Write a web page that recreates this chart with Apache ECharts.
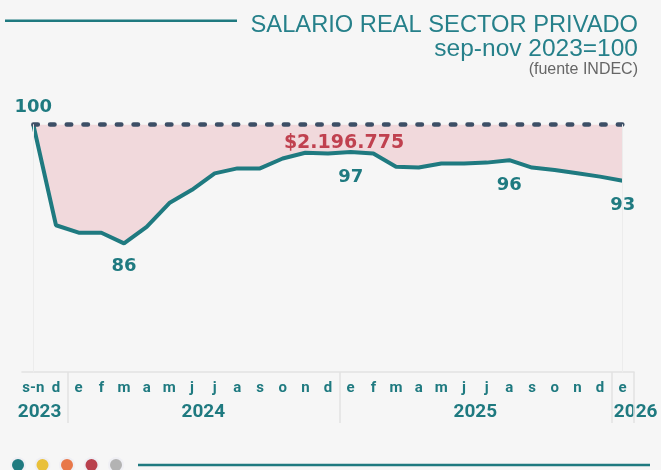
<!DOCTYPE html>
<html>
<head>
<meta charset="utf-8">
<script src="https://cdn.jsdelivr.net/npm/echarts@6/dist/echarts.min.js"></script>
<style>
    html, body { margin: 0; padding: 0; background: #f6f6f6; }
    #chart { width: 661px; height: 470px; }
</style>
</head>
<body>
<div id="chart"></div>
<script>
    // meses (sep-nov 2023 = 100)
    var months = ['s-n', 'd', 'e', 'f', 'm', 'a', 'm', 'j', 'j', 'a', 's', 'o', 'n', 'd',
        'e', 'f', 'm', 'a', 'm', 'j', 'j', 'a', 's', 'o', 'n', 'd', 'e']
    var salario = [100, 87.8, 86.9, 86.9, 85.6, 87.6, 90.5, 92.1, 94.1, 94.7, 94.7, 95.9, 96.6, 96.5,
        96.7, 96.5, 94.9, 94.8, 95.3, 95.3, 95.4, 95.7, 94.8, 94.5, 94.1, 93.7, 93.2]
    var base = 100
    // puntos con etiqueta
    var labelIdx = [0, 4, 14, 21, 26]
    // años: texto, primer y ultimo indice
    var years = ['2023', '2024', '2025', '2026']
    var yearSpan = [[0, 1], [2, 13], [14, 25], [26, 26]]
    var perdida = '$2.196.775'
    var dotColors = ['#1f7a80', '#e9c03a', '#e8784a', '#b9414e', '#b3b3b3']

    var teal = '#1f7a80'

    var chart = echarts.init(document.getElementById('chart'))

    var lineData = salario.map(function (v, i) {
        if (labelIdx.indexOf(i) < 0) return v
        return {
            value: v,
            label: {
                show: true,
                position: i === 0 ? 'top' : 'bottom',
                distance: i === 0 ? 8 : (i === 4 ? 14 : 16),
                formatter: function (p) { return Math.round(p.value) },
                color: teal,
                fontFamily: 'DejaVu Sans',
                fontWeight: 'bold',
                fontSize: 18
            }
        }
    })

    chart.setOption({
        backgroundColor: '#f6f6f6',
        animation: false,
        title: [
            {
                text: 'SALARIO REAL SECTOR PRIVADO',
                right: 18,
                top: 8,
                textStyle: { color: '#26808a', fontFamily: 'Liberation Sans', fontWeight: 'normal', fontSize: 23.7 }
            },
            {
                text: 'sep-nov 2023=100',
                right: 18,
                top: 32,
                textStyle: { color: '#26808a', fontFamily: 'Liberation Sans', fontWeight: 'normal', fontSize: 24.5 }
            },
            {
                text: '(fuente INDEC)',
                right: 18,
                top: 57,
                textStyle: { color: '#666', fontFamily: 'Liberation Sans', fontWeight: 'normal', fontSize: 16 }
            },
            {
                text: perdida,
                left: 339,
                top: 129,
                textAlign: 'center',
                textStyle: { color: '#c0414f', fontFamily: 'DejaVu Sans', fontWeight: 'bold', fontSize: 19 }
            }
        ],
        grid: { //area del grafico
            left: 22,
            right: 27,
            top: 124.7,
            bottom: 98
        },
        xAxis: {
            type: 'category',
            boundaryGap: true,
            data: months,
            axisLine: { lineStyle: { color: '#e2e2e2', width: 1.5 } },
            axisTick: {
                show: true,
                length: 51,
                interval: function (index) { return index === 2 || index === 14 || index === 26 },
                lineStyle: { color: '#e2e2e2', width: 1.5 }
            },
            axisLabel: {
                interval: 0,
                margin: 9,
                color: teal,
                fontFamily: 'Roboto',
                fontWeight: 'bold',
                fontSize: 15
            },
            splitLine: { show: false }
        },
        yAxis: {
            type: 'value',
            min: 70,
            max: 100,
            show: false
        },
        series: [
            {
                name: 'salario',
                type: 'line',
                data: lineData,
                symbol: 'circle',
                symbolSize: 0,
                itemStyle: { color: teal },
                z: 3,
                lineStyle: { color: teal, width: 4 },
                areaStyle: { color: '#f1d9dc', opacity: 1, origin: 'end' },
                markLine: {
                    silent: true,
                    symbol: 'none',
                    label: { show: false },
                    lineStyle: { color: '#3d4f66', width: 4.5, type: [4.5, 12.2], cap: 'round' },
                    data: [
                        [{ coord: [0, base] }, { coord: [months.length - 1, base] }],
                        { xAxis: 0, lineStyle: { color: '#ececec', width: 1, type: 'solid' } },
                        { xAxis: months.length - 1, lineStyle: { color: '#ececec', width: 1, type: 'solid' } }
                    ]
                }
            }
        ]
    })

    // etiquetas de años y decoracion
    var band = chart.convertToPixel({ xAxisIndex: 0 }, 1) - chart.convertToPixel({ xAxisIndex: 0 }, 0)
    var graphics = []
    years.forEach(function (y, k) {
        var a = chart.convertToPixel({ xAxisIndex: 0 }, yearSpan[k][0])
        var b = chart.convertToPixel({ xAxisIndex: 0 }, yearSpan[k][1])
        var x = (a + b) / 2
        var align = 'center'
        if (k === 0) { x = b + band / 2 - 6; align = 'right' }
        if (k === years.length - 1) { x = a - band / 2 + 2.5; align = 'left' }
        graphics.push({
            type: 'text',
            x: x,
            y: 412,
            style: {
                text: y,
                fill: teal,
                font: 'bold 19px Roboto',
                textAlign: align,
                textVerticalAlign: 'middle'
            }
        })
    })
    graphics.push({
        type: 'line',
        shape: { x1: 5, y1: 20.7, x2: 237, y2: 20.7 },
        style: { stroke: teal, lineWidth: 2.5 }
    })
    graphics.push({
        type: 'line',
        shape: { x1: 138, y1: 465, x2: 650, y2: 465 },
        style: { stroke: teal, lineWidth: 2.5 }
    })
    dotColors.forEach(function (c, k) {
        graphics.push({
            type: 'circle',
            shape: { cx: 18 + k * 24.5, cy: 465, r: 8 },
            style: { fill: '#efeff4' }
        })
        graphics.push({
            type: 'circle',
            shape: { cx: 18 + k * 24.5, cy: 465, r: 6 },
            style: { fill: c }
        })
    })
    chart.setOption({ graphic: graphics })
</script>
</body>
</html>
